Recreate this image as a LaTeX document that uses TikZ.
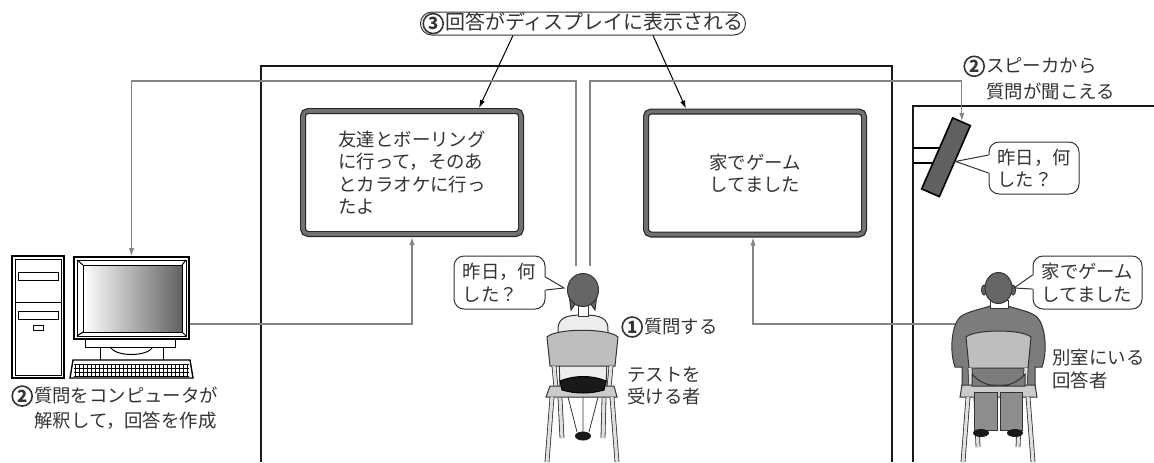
\documentclass[tikz,border=0pt]{standalone}
\usepackage{fontspec}
\setmainfont{Noto Sans CJK JP}
\usetikzlibrary{positioning,arrows.meta}

\definecolor{ink}{HTML}{333333}
\definecolor{wire}{HTML}{858585}
\definecolor{bezel}{HTML}{707070}
\definecolor{hair}{HTML}{666666}
\definecolor{suit}{HTML}{7C7C7C}
\definecolor{pants}{HTML}{8E8E8E}
\definecolor{chair}{HTML}{BEBEBE}
\definecolor{shirt}{HTML}{EDEDED}

% step numbers in a circle
\newcommand*{\circnum}[1]{\tikz[baseline=(n.base)]\node[draw=ink, circle, line width=0.8pt,
    inner sep=0pt, minimum size=10pt, text=ink, font=\bfseries\fontsize{8.4}{8.4}\selectfont] (n) {#1};\hspace{0.5pt}}

\tikzset{
  wall/.style={draw=black!90, line width=1pt},
  wire/.style={draw=wire, line width=0.55pt},
  screen/.style={draw=black!85, line width=0.6pt, double=bezel, double distance=1.8pt,
    fill=white, rounded corners=2.5pt, minimum width=109pt, minimum height=61.5pt,
    inner sep=0pt, text=ink},
  bubble/.style={draw=black!80, fill=white, line width=0.5pt, rounded corners=5pt,
    align=left, inner sep=0pt, minimum height=26.5pt, text=ink},
  caption/.style={inner sep=0pt, align=left, text=ink},
  leg/.style={draw=black!80, line width=0.4pt, double=black!12, double distance=1.6pt},
  outline/.style={draw=black!80, line width=0.5pt},
}

\begin{document}
\begin{tikzpicture}[x=0.5pt, y=-0.5pt, line width=0.5pt, >={Latex[length=4pt,width=2.6pt]},
    font=\fontsize{9.2}{11.25}\selectfont]
    \useasboundingbox (0,0) rectangle (1154,462);

    % the two rooms
    \draw[wall] (261,462) -- (261,66) -- (892,66) -- (892,462);
    \draw[wall] (913,462) -- (913,106) -- (1154,106);

    % displays
    \node[screen, align=left] (screenA) at (412,172.5) {友達とボーリング\\に行って，そのあ\\とカラオケに行っ\\たよ};
    \node[screen, align=center] (screenB) at (755,173) {家でゲーム\\してました};

    \node[draw=black!80, rounded corners=5.7pt, minimum width=162.5pt, minimum height=11.5pt,
        inner sep=0pt, text=ink, font=\fontsize{10}{12}\selectfont] (topLabel) at (583,23.5) {\circnum{3}回答がディスプレイに表示される};
    \draw[->] ([xshift=-35pt]topLabel.south) -- ([xshift=33.5pt,yshift=1.2pt]screenA.north);
    \draw[->] ([xshift=35pt]topLabel.south) -- ([xshift=-34.5pt,yshift=1.2pt]screenB.north);

    % speaker on the wall
    \draw[line width=0.9pt] (913,148) -- (948,148) (913,163) -- (945,163);
    \node[draw=black, line width=0.8pt, fill=black!62, rotate=66.4, minimum width=38.75pt,
        minimum height=9.65pt, inner sep=0pt] (speaker) at (946,157.25) {};

    % computer
    \draw[line width=0.8pt, fill=white] (12,256) rectangle (64,378);
    \draw (15,259) rectangle (61,375);
    \draw (15,302) -- (61,302);
    \draw (18,272) rectangle (58,280);
    \draw (18,311) rectangle (58,319);
    \draw (33,325) rectangle (43,330);
    \node[draw, line width=0.8pt, minimum width=57.5pt, minimum height=41pt, inner sep=0pt] (monitor) at (131.5,298) {};
    \draw (77,260) rectangle (186,336);
    \shade[left color=white, right color=black!62] (83,265) rectangle (182,332);
    \draw (83,265) rectangle (182,332);
    \draw (77,260) -- (83,265) (186,260) -- (182,265) (77,336) -- (83,332) (186,336) -- (182,332);
    \draw[fill=white] (85,339) rectangle (175,347);
    \draw[fill=white] (100,347) rectangle (163,360);
    \draw (110,347) .. controls (116,357) and (147,357) .. (153,347);
    \draw[line width=0.7pt, fill=white] (73,360) -- (190,360) -- (193,378) -- (70,378) -- cycle;
    \foreach \ky in {364,368,372,376}
        \draw[line width=0.3pt] (74,\ky) -- (189,\ky);
    \foreach \kx in {75,79,...,187}
        \draw[line width=0.3pt] (\kx,364) -- (\kx,376);

    % wires
    \coordinate (micL) at (576,266);
    \coordinate (micR) at (590,266);
    \coordinate (hisShoulder) at (960,324);
    \draw[wire,->] (micL) -- ++(0,-185) -| (monitor.north);
    \draw[wire,->] (micR) -- ++(0,-185) -| (speaker.east);
    \draw[wire,->] ([yshift=-13pt]monitor.east) -| ([yshift=-1.2pt]screenA.south);
    \draw[wire,->] (hisShoulder) -| ([xshift=-1pt,yshift=-1.2pt]screenB.south);

    % test taker
    \draw[leg] (560,398) -- (562,438);
    \draw[leg] (604,398) -- (603,438);
    \filldraw[fill=shirt, outline] (558,332) .. controls (557,318) and (565,315) .. (583,315)
        .. controls (601,315) and (609,318) .. (608,332) -- (606,388) -- (560,388) -- cycle;
    \filldraw[fill=white, outline] (578,302) rectangle (588,316);
    \filldraw[fill=hair, outline] (569,294) -- (571,310) -- (576,303) -- cycle;
    \filldraw[fill=hair, outline] (597,294) -- (595,310) -- (590,303) -- cycle;
    \filldraw[fill=hair, outline] (583,290) ellipse [x radius=15.5, y radius=16.5];
    \filldraw[fill=chair, outline] (547,337) .. controls (556,328) and (609,328) .. (618,337)
        -- (615,366) -- (550,366) -- cycle;
    \draw[leg] (554,366) -- (556,388);
    \draw[leg] (611,366) -- (609,388);
    \filldraw[fill=chair!80, outline] (550,386) -- (614,386) -- (617,397) -- (546,397) -- cycle;
    \filldraw[fill=black!90, draw=black] (560,381) .. controls (575,375) and (592,375) .. (606,381)
        -- (604,390) .. controls (590,394) and (576,394) .. (562,390) -- cycle;
    \draw[outline, line width=0.4pt] (568,397) -- (577,432) (583,397) -- (583,432) (598,397) -- (589,432);
    \fill[black!90] (583,436) ellipse [x radius=8, y radius=4.5];
    \draw[leg] (552,397) -- (547,462);
    \draw[leg] (612,397) -- (617,462);

    % answerer
    \draw[leg] (976,398) -- (978,447);
    \draw[leg] (1020,398) -- (1018,447);
    \filldraw[fill=suit, outline] (955,367) .. controls (949,350) and (952,325) .. (960,317)
        .. controls (968,311) and (982,309) .. (990,306) -- (1008,306)
        .. controls (1016,309) and (1030,311) .. (1037,317)
        .. controls (1045,325) and (1048,350) .. (1042,367) -- (1035,367) -- (1035,390)
        -- (962,390) -- (962,367) -- cycle;
    \filldraw[fill=white, outline] (990,300) rectangle (1008,308);
    \filldraw[fill=hair, outline] (984,290) ellipse [x radius=2.5, y radius=5];
    \filldraw[fill=hair, outline] (1013,290) ellipse [x radius=2.5, y radius=5];
    \filldraw[fill=hair, outline] (998.5,288) ellipse [x radius=13.5, y radius=15.5];
    \filldraw[fill=chair, outline] (966,337) .. controls (975,329) and (1022,329) .. (1031,337)
        -- (1028,368) -- (969,368) -- cycle;
    \draw[leg] (970,368) -- (971,388);
    \draw[leg] (1026,368) -- (1025,388);
    \filldraw[fill=chair!80, outline] (962,385) -- (1035,385) -- (1037,397) -- (960,397) -- cycle;
    \filldraw[fill=suit, outline] (972,374) .. controls (985,390) and (1012,390) .. (1025,374)
        -- (1025,386) -- (972,386) -- cycle;
    \filldraw[fill=pants, outline] (974,392) rectangle (997,430);
    \filldraw[fill=pants, outline] (1000,392) rectangle (1022,430);
    \fill[black!90] (981,433) ellipse [x radius=8, y radius=4];
    \fill[black!90] (1015,433) ellipse [x radius=8, y radius=4];
    \draw[leg] (968,397) -- (963,462);
    \draw[leg] (1028,397) -- (1033,462);

    % speech bubbles
    \node[bubble, minimum width=45.5pt] (herBubble) at (499.5,282.5) {昨日，何\\した？};
    \coordinate (herMouth) at (564,288);
    \fill[white] ([xshift=-0.8pt,yshift=2.75pt]herBubble.east) -- (herMouth) -- ([xshift=-0.8pt,yshift=-3.75pt]herBubble.east) -- cycle;
    \draw[outline] ([yshift=2.75pt]herBubble.east) -- (herMouth) -- ([yshift=-3.75pt]herBubble.east);

    \node[bubble, minimum width=45pt, minimum height=26pt] (spkBubble) at (1034,168) {昨日，何\\した？};
    \fill[white] ([xshift=0.8pt,yshift=6.5pt]spkBubble.west) -- (speaker.south) -- ([xshift=0.8pt,yshift=-2.5pt]spkBubble.west) -- cycle;
    \draw[outline] ([yshift=6.5pt]spkBubble.west) -- (speaker.south) -- ([yshift=-2.5pt]spkBubble.west);

    \node[bubble, minimum width=54.5pt] (hisBubble) at (1087.5,282.5) {家でゲーム\\してました};
    \coordinate (hisMouth) at (1014,288);
    \fill[white] ([xshift=0.8pt,yshift=3.75pt]hisBubble.west) -- (hisMouth) -- ([xshift=0.8pt,yshift=-3.25pt]hisBubble.west) -- cycle;
    \draw[outline] ([yshift=3.75pt]hisBubble.west) -- (hisMouth) -- ([yshift=-3.25pt]hisBubble.west);

    % captions
    \node[caption, anchor=west] (spkLabel) at (963,77.5) {\circnum{2}スピーカから\\[1.5pt]\hspace*{11.5pt}質問が聞こえる};
    \node[caption, anchor=west] (pcLabel) at (11,407.5) {\circnum{2}質問をコンピュータが\\[1.5pt]\hspace*{11.5pt}解釈して，回答を作成};
    \node[caption, anchor=west] (askLabel) at (621,327) {\circnum{1}質問する};
    \node[caption, anchor=west] (takerLabel) at (627,386) {テストを\\受ける者};
    \node[caption, anchor=west] (answererLabel) at (1052,369) {別室にいる\\回答者};
\end{tikzpicture}
\end{document}
